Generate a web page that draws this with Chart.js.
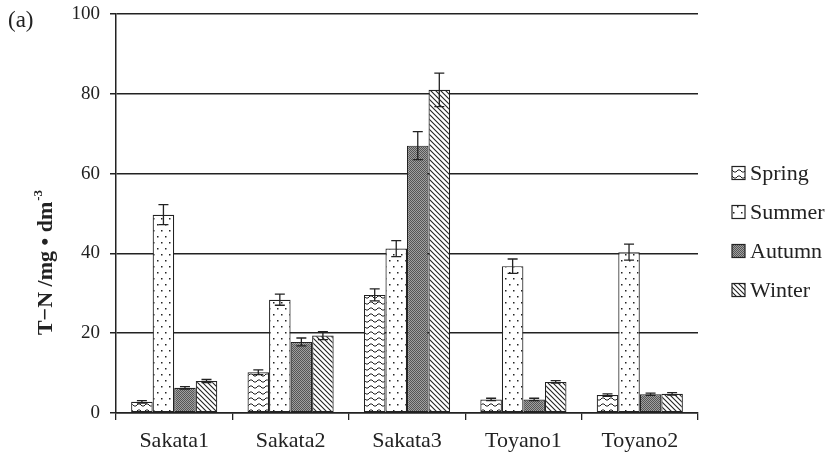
<!DOCTYPE html>
<html>
<head>
<meta charset="utf-8">
<script src="https://cdn.jsdelivr.net/npm/chart.js@4"></script>
<style>
  html, body { margin: 0; padding: 0; background: #fff; }
  #wrap { width: 835px; height: 460px; }
</style>
</head>
<body>
<div id="wrap"><canvas id="c" width="835" height="460"></canvas></div>
<script>
// Sampling sites and seasons
const categories = ['Sakata1', 'Sakata2', 'Sakata3', 'Toyano1', 'Toyano2'];
const seasons = ['Spring', 'Summer', 'Autumn', 'Winter'];

// T-N concentration (mg/dm3) per season
const spring = [2.8, 10.2, 29.6, 3.4, 4.5];
const summer = [49.7, 28.4, 41.2, 36.8, 40.3];
const autumn = [6.3, 17.8, 67.0, 3.4, 4.7];
const winter = [8.0, 19.4, 81.0, 7.8, 4.8];

// Standard errors
const springErr = [0.3, 0.6, 1.5, 0.3, 0.3];
const summerErr = [2.5, 1.4, 2.0, 1.8, 2.0];
const autumnErr = [0.3, 1.0, 3.5, 0.3, 0.3];
const winterErr = [0.4, 1.0, 4.2, 0.3, 0.3];

const yTicks = [0, 20, 40, 60, 80, 100];

const SERIF = '"Liberation Serif", "Times New Roman", serif';

// ---- fill patterns ----
function makePattern(w, h, draw) {
  const cv = document.createElement('canvas');
  cv.width = w; cv.height = h;
  const g = cv.getContext('2d');
  draw(g, w, h);
  return g.createPattern(cv, 'repeat');
}
const ctx = document.getElementById('c').getContext('2d');

const waveFill = makePattern(8, 6, (g, w, h) => {
  g.fillStyle = '#fff'; g.fillRect(0, 0, w, h);
  g.strokeStyle = '#222'; g.lineWidth = 1;
  g.beginPath();
  g.moveTo(0, 4); g.lineTo(2, 2); g.lineTo(4, 2); g.lineTo(6, 4); g.lineTo(8, 4);
  g.stroke();
});
const dotFill = makePattern(8, 12, (g, w, h) => {
  g.fillStyle = '#fff'; g.fillRect(0, 0, w, h);
  g.fillStyle = '#222';
  g.fillRect(1, 2, 1.5, 1.5);
  g.fillRect(5, 8, 1.5, 1.5);
});
const checkFill = makePattern(2, 2, (g, w, h) => {
  g.fillStyle = '#a0a0a0'; g.fillRect(0, 0, w, h);
  g.fillStyle = '#555';
  g.fillRect(0, 0, 1, 1); g.fillRect(1, 1, 1, 1);
});
const diagFill = makePattern(5, 5, (g, w, h) => {
  g.fillStyle = '#fff'; g.fillRect(0, 0, w, h);
  g.strokeStyle = '#222'; g.lineWidth = 1.1;
  g.beginPath();
  g.moveTo(-1, -1); g.lineTo(6, 6);
  g.moveTo(-1, 4); g.lineTo(1, 6);
  g.moveTo(4, -1); g.lineTo(6, 1);
  g.stroke();
});

const seriesValues = [spring, summer, autumn, winter];
const seriesErrors = [springErr, summerErr, autumnErr, winterErr];
const seriesFills = [waveFill, dotFill, checkFill, diagFill];

const datasets = seasons.map((name, i) => ({
  label: name,
  data: seriesValues[i],
  errors: seriesErrors[i],
  backgroundColor: seriesFills[i],
  borderColor: '#222',
  borderWidth: 1.2,
  borderSkipped: false,
  categoryPercentage: 0.74,
  barPercentage: 1.0
}));

// Error bars drawn from the value and error arrays via the y scale
const errorBars = {
  id: 'errorBars',
  afterDatasetsDraw(chart) {
    const g = chart.ctx;
    const y = chart.scales.y;
    g.save();
    g.strokeStyle = '#222';
    g.lineWidth = 1.3;
    chart.data.datasets.forEach((ds, di) => {
      const meta = chart.getDatasetMeta(di);
      meta.data.forEach((bar, i) => {
        const v = ds.data[i], e = ds.errors[i];
        const x = bar.x;
        const top = y.getPixelForValue(v + e);
        const bot = y.getPixelForValue(v - e);
        const cap = 5;
        g.beginPath();
        g.moveTo(x, top); g.lineTo(x, bot);
        g.moveTo(x - cap, top); g.lineTo(x + cap, top);
        g.moveTo(x - cap, bot); g.lineTo(x + cap, bot);
        g.stroke();
      });
    });
    g.restore();
  }
};

// Panel tag, rotated axis title and the side legend
const annotations = {
  id: 'annotations',
  afterDraw(chart) {
    const g = chart.ctx;
    g.save();
    g.fillStyle = '#222';
    g.textBaseline = 'alphabetic';
    g.font = '23px ' + SERIF;
    g.textAlign = 'left';
    g.fillText('(a)', 8, 27);

    // y-axis title with superscript
    g.translate(52, 263);
    g.rotate(-Math.PI / 2);
    g.font = 'bold 22px ' + SERIF;
    const main = 'T\u2212N /mg \u2022 dm';
    const sup = '-3';
    const mw = g.measureText(main).width;
    g.font = 'bold 13px ' + SERIF;
    const sw = g.measureText(sup).width;
    const start = -(mw + sw) / 2;
    g.font = 'bold 22px ' + SERIF;
    g.fillText(main, start, 0);
    g.font = 'bold 13px ' + SERIF;
    g.fillText(sup, start + mw + 1, -10);
    g.restore();

    // legend
    g.save();
    const rows = [173, 212, 251, 290];
    chart.data.datasets.forEach((ds, i) => {
      const cy = rows[i];
      g.fillStyle = ds.backgroundColor;
      g.fillRect(732, cy - 6.5, 13, 13);
      g.strokeStyle = '#222';
      g.lineWidth = 1.2;
      g.strokeRect(732, cy - 6.5, 13, 13);
      g.fillStyle = '#222';
      g.font = '22px ' + SERIF;
      g.textAlign = 'left';
      g.textBaseline = 'middle';
      g.fillText(ds.label, 750, cy + 1);
    });
    g.restore();
  }
};

new Chart(ctx, {
  type: 'bar',
  data: { labels: categories, datasets },
  plugins: [errorBars, annotations],
  options: {
    responsive: false,
    animation: false,
    devicePixelRatio: 1,
    layout: { padding: { left: 0, right: 137, top: 14, bottom: 0 } },
    plugins: {
      legend: { display: false },
      tooltip: { enabled: false },
      title: { display: false }
    },
    scales: {
      x: {
        offset: true,
        grid: {
          offset: true,
          drawOnChartArea: false,
          drawTicks: true,
          tickLength: 7,
          color: '#222',
          lineWidth: 1.3
        },
        border: { display: true, color: '#222', width: 1.5 },
        ticks: {
          color: '#222',
          font: { family: SERIF, size: 22 },
          padding: 8
        },
        afterFit(scale) {
          scale.height = 47;
          scale.paddingLeft = 0; scale.paddingRight = 0;
        }
      },
      y: {
        min: 0,
        max: 100,
        afterBuildTicks(scale) { scale.ticks = yTicks.map(v => ({ value: v })); },
        grid: {
          color: '#222',
          lineWidth: 1.5,
          drawTicks: true,
          tickLength: 6
        },
        border: { display: true, color: '#222', width: 1.5 },
        ticks: {
          color: '#222',
          font: { family: SERIF, size: 19 },
          padding: 10
        },
        afterFit(scale) {
          scale.width = 116;
          scale.paddingTop = 0; scale.paddingBottom = 0;
        }
      }
    }
  }
});
</script>
</body>
</html>
